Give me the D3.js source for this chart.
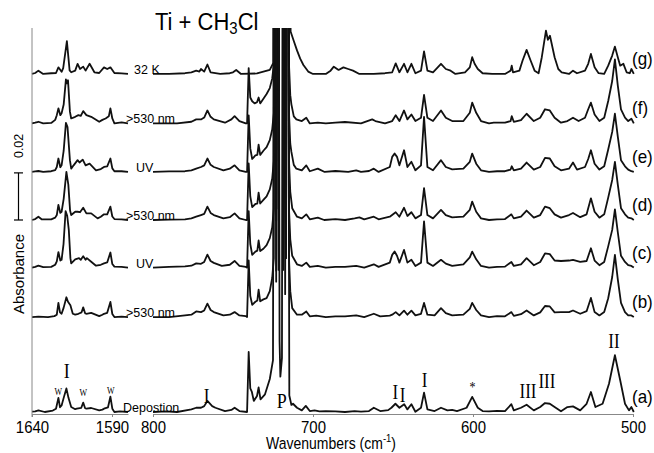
<!DOCTYPE html>
<html>
<head>
<meta charset="utf-8">
<script src="https://cdn.jsdelivr.net/npm/d3@7"></script>
<style>
  body { margin: 0; background: #fff; }
  svg { display: block; font-family: "Liberation Sans", Arial, sans-serif; }
</style>
</head>
<body>
<div id="chart"></div>
<script>
const width = 654, height = 453;

// spectra: [wavenumber (cm-1), absorbance x 1000]
const traceIds = ["(a)", "(b)", "(c)", "(d)", "(e)", "(f)", "(g)"];
const traceNotes = ["Depostion", ">530 nm", "UV", ">530 nm", "UV", ">530 nm", "32 K"];
const traceOffsets = [0, 40.3, 61.3, 81.5, 101.9, 122.5, 143.5];
const scaleBarValue = 20; // 0.02 absorbance

const xLeftTicks = [1640, 1590];
const xRightTicks = [800, 700, 600, 500];

// 1640-1580 region
const leftA = [[1640,0.2],[1638,0.3],[1636,0.7],[1632,0],[1627,0.6],[1625,1.4],[1623.5,6.0],[1622.5,2.0],[1621.5,2.8],[1620.2,6],[1618.5,10],[1617.2,6],[1615.5,2.1],[1613,1.2],[1612,1.4],[1609.2,1.8],[1608,4.0],[1606.8,1.6],[1606,1.4],[1603,1.7],[1598,0.7],[1596,1.0],[1595,1.4],[1592.5,2],[1591,6.5],[1589.8,1.4],[1588.5,0],[1585,0.3],[1580,0]];
const leftB = [[1640,0],[1636,0.2],[1630,0],[1626,0.4],[1624.5,1.0],[1623.5,6.0],[1622.5,2.0],[1621.5,1.4],[1620.2,4],[1618.5,8.4],[1617.5,6.5],[1616,5.0],[1614.5,1.4],[1613,1.0],[1611,1.4],[1609,2.0],[1608,4.1],[1606.8,1.6],[1606,1.4],[1603,1.8],[1598,0.4],[1596,1.0],[1595,1.4],[1593,1.8],[1591,6.4],[1589.8,1.3],[1588.5,0],[1584,0.2],[1580,0]];
const leftC = [[1640,0],[1638,0.3],[1636,0.8],[1633,0.2],[1628,0.3],[1625.5,1.2],[1624.5,2.6],[1623.5,6.6],[1622.3,3],[1621.5,3.3],[1620.3,10],[1619,24],[1618,22],[1617,16],[1616,4],[1615.5,1.8],[1613,3.5],[1610.6,4.0],[1609.5,3.3],[1608,4.8],[1606.5,3.3],[1605.7,4.0],[1603,2.5],[1600,0.8],[1597,1.2],[1595,1.8],[1593,2.2],[1591,6.4],[1589.8,1.5],[1588.5,0.4],[1584,0.3],[1580,0]];
const leftD = [[1640,0],[1638,0.4],[1636,1.4],[1634,0.3],[1628,0.3],[1625.5,1.0],[1624.5,2.1],[1623.5,6.4],[1622.3,3],[1621.5,3.5],[1620.2,9],[1618.5,20.4],[1617.3,15],[1616.2,4],[1615.5,2.1],[1613,3.5],[1611.5,3.5],[1610,3.3],[1608,5.2],[1606,2.8],[1603,2.8],[1599,0.7],[1597,1.4],[1595,2.4],[1593,2.4],[1591,5.7],[1589.8,1.5],[1588.5,0.4],[1584,0.3],[1580,0]];
const leftE = [[1640,0],[1638,0.2],[1636,0.4],[1633,0],[1628,0.3],[1625.5,0.8],[1624.5,2.1],[1623.5,5.7],[1622.3,2.0],[1621.5,2.8],[1620.2,9],[1618.8,20.8],[1617.8,19],[1616.3,5],[1615.5,1.4],[1614,2.8],[1611.5,5.0],[1610.3,4.0],[1608.3,5.2],[1606.5,2.8],[1604,3.5],[1600,0.7],[1597,1.2],[1595,2.1],[1593,2.4],[1591,5.7],[1589.8,1.5],[1588.5,0.3],[1584,0.3],[1580,0]];
const leftF = [[1640,0],[1638,0.3],[1636,0.7],[1633,0],[1628,0.2],[1625.5,1.5],[1624.5,3.5],[1623.5,6.4],[1622.3,3.5],[1621.5,4.3],[1620.2,8],[1618.8,18.7],[1618.2,17],[1617.5,18.3],[1616.3,5],[1615.5,2.1],[1613,2.8],[1611,3.5],[1609.5,3.2],[1608,5.2],[1606,3.5],[1603,2.8],[1598,0.7],[1596,1.5],[1594,2.1],[1592,3],[1591,6.4],[1589.8,2.1],[1588.5,0],[1584,0.4],[1580,0]];
const leftG = [[1640,0],[1638,0.4],[1636,1.4],[1633,0],[1628,0.3],[1625,0.4],[1623.5,2.8],[1621.5,0.9],[1620.5,2.5],[1618.2,13.9],[1616.5,1.5],[1615.5,0.7],[1613,1.4],[1611.5,4.3],[1610,2.1],[1608,3.1],[1606.5,1.4],[1604,4.3],[1601,0.7],[1598,0.4],[1595,2.8],[1593,2.1],[1591,2.8],[1588.5,0.4],[1584,0.2],[1580,0]];

// 800-500 region
const rightA = [[800,0],[792,0.3],[785,0],[776,1.1],[773,1.8],[770,1.8],[768,2.5],[766,4.7],[763,2.5],[761,1.8],[755,0.4],[751,0.9],[749,1.8],[746,0.4],[741.2,0],[740.2,25.5],[739.2,10],[738.2,8.5],[737,4.7],[735,6.8],[734,10.4],[732.8,5.4],[730,7.5],[727,14],[725,22],[724,400],[723,60],[722,400],[720.9,30],[720.4,15],[719.4,23],[718.6,400],[717.4,50],[716.2,400],[714.8,7],[713.5,3],[712.5,3.5],[710,1.8],[707,0.7],[704.5,2.6],[702,0.4],[699,0.7],[696,0.3],[692,0.4],[686,0.3],[680,0],[674,0.4],[670,0.2],[665,0.4],[662,1.8],[658,0.4],[653,0.8],[651,1.8],[648.5,3.5],[646,1.8],[643,3.3],[641,1.1],[638.5,3.3],[636,0.1],[632.5,1.8],[630.6,8.2],[628.5,1.1],[624,0.4],[620,1.8],[616,0.7],[613,0.9],[610,0.4],[604,1.8],[600.5,6.4],[597,1.8],[594,0.4],[590,0.3],[585,0.5],[580,0.4],[576,3.3],[574.5,0.7],[570,1.8],[566.5,3.1],[562,0.7],[558,2.1],[555,3.8],[552,3.5],[549,2.1],[545,0.3],[541,2.1],[537.5,2.4],[533,0.7],[529,3.5],[526.3,8.5],[523.5,2.1],[519,3.5],[515,12],[511.3,24.1],[508,13.5],[505,3.5],[502.5,0.7],[501,2.1],[499.5,0]];
const rightB = [[800,0],[790,0],[780,0.7],[776,1.0],[773,2.4],[770,2.1],[768,2.8],[766,5.7],[764,3.0],[762,2.1],[756,0.7],[752,1.0],[749,2.1],[746,0.7],[742,0.4],[741.2,0],[740.2,24],[739.2,9],[738,5.2],[736,6.5],[734.8,7],[734,11.6],[733,6.7],[731,7.5],[729,8],[727,11],[725.5,16.6],[724.5,25],[723.8,400],[723,15],[722.3,400],[721.5,20],[720.8,400],[720.2,200],[719.3,400],[718.5,20],[717.7,400],[716.8,25],[716,400],[715,25],[714.2,11],[713,3.8],[710,1.0],[707,1.0],[704.2,2.4],[702,0.3],[698,0.6],[692,0],[686,0.3],[680,0.3],[673,0.7],[668,0],[662,1.4],[658,0.3],[652,0.6],[650.5,1.0],[648.3,2.1],[646,0.7],[643.1,2.7],[641,1.0],[638.5,2.7],[636,0.7],[632.5,1.4],[630.6,6.0],[628.5,1.0],[624,0.7],[620,3.8],[617,1.7],[613,0.7],[606,1.0],[602,3.5],[600.5,6.0],[598,3.0],[595,0.7],[590,0],[585,0.4],[580,0.3],[576,2.1],[574.5,0.5],[570,1.2],[566.5,2.8],[562,0.7],[558,2.0],[555,4.7],[552,4.5],[549,2.0],[545,2.1],[540,2.1],[537.5,2.8],[533,1.4],[529,2.5],[526.3,8.1],[524,2.1],[521,0.7],[518,2.1],[515.5,8],[513,17],[511.3,26.4],[509.5,16],[507.5,6],[505,2.1],[503,0.7],[501,0.7],[499.5,0]];
const rightC = [[800,0],[790,0.3],[780,0.5],[776,0.8],[773,1.8],[770,1.6],[768,2.4],[766,5.5],[764,2.8],[762,2.0],[757,0.7],[752,1.2],[749,2.8],[746,0.7],[742,0.3],[741.2,0],[740.2,24],[739.2,10],[738,5.4],[736,6.8],[734.8,7.2],[734,11.5],[733,7],[731,8],[729,9.5],[727,12.5],[725.5,17],[724.5,25],[723.8,400],[723,20],[722.3,400],[721.5,25],[720.8,400],[720.2,200],[719.3,400],[718.5,25],[717.7,400],[716.8,30],[716,400],[715,25],[714.2,12],[713,5],[710,1.4],[707,0.7],[704.2,2.1],[702,0.3],[697,0.7],[692,0],[686,0.3],[680,0.3],[673,0.7],[668,0],[662,1.4],[659,0.3],[652,2.1],[650.5,5.4],[649,6.8],[647.5,5.0],[646,2.1],[643.1,7.5],[641,2.1],[638.5,3.3],[636,0.7],[632.5,2.1],[630.6,19.6],[628.5,2.1],[625,0.7],[620,3.3],[617,1.7],[613,0.7],[606,1.4],[602,4.3],[600.5,6.8],[598,3.5],[595,0.7],[590,0],[585,0.3],[580,0.4],[576,2.4],[574.5,0.7],[570,1.4],[566.5,4.0],[562,1.0],[558,2.4],[555,6.0],[552,5.7],[549,3.0],[545,2.8],[540,3.0],[537.5,3.3],[533,2.4],[529,2.8],[526.3,8.2],[524,3.0],[521,1.0],[518,2.4],[515.5,9],[513,16],[511.3,24.7],[509.5,15],[507.5,5],[505,2.4],[503,1.0],[501,0.7],[499.5,0]];
const rightD = [[800,0],[790,0.2],[780,0.3],[776,0.7],[773,1.4],[770,2.1],[768,2.6],[766,5.7],[764,3.0],[762,2.1],[756,0.7],[752,1.2],[749,2.8],[746,0.7],[742,0],[741.2,0],[740.2,24],[739.2,10],[738,5.5],[736,6.8],[734.8,7],[734,11.6],[733,7],[731,8.5],[729,10],[727,13],[725.5,17.5],[724.5,25],[723.8,400],[723,25],[722.3,400],[721.5,30],[720.8,400],[720.2,200],[719.3,400],[718.5,30],[717.7,400],[716.8,35],[716,400],[715,25],[714.2,12],[713,5],[710,1.4],[707,0.7],[704.2,2.4],[702,0.3],[697,1.0],[693,0],[686,0.4],[680,0],[674,0.7],[671,1.1],[668,0.3],[662,1.4],[659,0.3],[652,1.4],[648.3,3.3],[646,1.4],[643.1,5.2],[641,1.7],[638.5,3.3],[636,0.7],[632.5,2.1],[630.6,13.5],[628.5,2.1],[625,0.7],[620,4.3],[617,2.1],[613,1.1],[606,1.4],[602,4.3],[600.5,7.8],[598,3.5],[595,0.7],[590,0],[585,0.3],[580,0.4],[576,2.4],[574.5,0.7],[570,1.4],[566.5,4.0],[562,1.0],[558,2.1],[555,5.7],[552,5.0],[549,2.4],[545,1.0],[540,2.1],[537.5,3.0],[533,1.2],[529,2.4],[526.3,9.2],[524,3.5],[521,1.0],[518,2.4],[515.5,9.5],[513,17],[511.3,24.7],[509.5,15],[507.5,5],[505,2.4],[503,1.0],[501,0.7],[499.5,0]];
const rightE = [[800,0],[790,0.2],[780,0.3],[776,0.7],[773,1.4],[770,2.1],[768,2.8],[766,5.7],[764,3.0],[762,2.1],[756,0.7],[752,1.4],[749,2.8],[746,0.7],[742,0],[741.2,0],[740.2,24],[739.2,10],[738,5.5],[736,7],[734.8,7.2],[734,11.6],[733,7.2],[731,9],[729,10.5],[727,13.5],[725.5,18],[724.5,25],[723.8,400],[723,30],[722.3,400],[721.5,35],[720.8,400],[720.2,200],[719.3,400],[718.5,35],[717.7,400],[716.8,40],[716,400],[715,25],[714.2,12],[713.5,8.5],[712,3],[710.4,1.4],[707,0.7],[704.2,2.8],[702,0.3],[697,1.4],[692.7,0],[686,0.4],[678,0],[673,0.7],[670,0],[665,0.4],[662,1.4],[659,0],[652,2.1],[650.5,6.4],[649,7.8],[647.5,6.4],[646,2.8],[643.1,9.2],[641,2.1],[638.5,4.3],[636,0.7],[632.5,2.8],[630.6,23.4],[628.5,2.1],[625,0.7],[620,5.0],[617,2.1],[613,1.1],[606,1.4],[602,4.3],[600.5,7.8],[598,3.5],[595,0.7],[590,0],[585,0.3],[580,0.3],[576.5,1.0],[575.8,2.4],[574.5,0.7],[570,1.4],[566.5,4.0],[562,1.0],[558,2.1],[555,6.0],[552,5.7],[549,2.4],[545,0.7],[540,1.4],[537.5,4.0],[535,1.0],[530,2.1],[528,5.5],[526.3,9.2],[524,3.5],[521,1.0],[518,2.4],[515.5,9.5],[513,17],[511.3,24.7],[509.5,15],[507.5,5],[505,2.4],[503,1.0],[501,0.3],[499.5,0]];
const rightF = [[800,0],[785,0],[776,0.7],[773,1.7],[770,1.7],[768,2.5],[766,5.5],[764,2.8],[762,1.7],[755,0.3],[751,1.7],[749,3.1],[746,1.0],[742,0],[741.2,0],[740.2,23.5],[739.2,11],[738,9.4],[736.5,8.5],[735,9],[734,11],[733,8.5],[731,10.5],[729,12.5],[727,15],[725.5,19],[724.5,25],[723.8,400],[723,35],[722.3,400],[721.5,40],[720.8,400],[720.2,200],[719.3,400],[718.5,40],[717.7,400],[716.8,45],[716,400],[715,25],[714.2,12],[713.5,8.1],[712,3],[710.4,1.7],[707,1.0],[704.2,2.4],[702,0],[697,0.3],[692,0],[686,0.3],[680,0.6],[670,0],[663,1.7],[661,1.0],[655,0],[650.5,1.0],[648.3,3.5],[646,1.0],[643.1,5.5],[641,1.7],[638.5,3.8],[636,1.0],[632.5,2.4],[630.6,12.1],[628.5,2.4],[625,1.0],[620,5.5],[617,2.4],[613,1.0],[606,1.0],[602,4.5],[600.5,8.8],[598,4.5],[595,1.0],[590,0],[587,0.3],[580,0.3],[576.5,1.0],[575.8,3.1],[574.5,0.7],[570,1.4],[566.5,4.1],[562,1.0],[558,2.4],[555,6.0],[552,5.5],[549,2.4],[545,0.3],[541,1.0],[537.5,2.4],[534,1.0],[530,2.4],[528,6.0],[526.3,8.8],[524,3.8],[521,1.0],[518,2.4],[515.5,9.5],[513,18],[511.3,27.2],[509.5,16],[507.5,6],[505,2.5],[503,1.0],[501,2.0],[499.5,0]];
const rightG = [[800,0],[790,0],[780,0.3],[776,0.7],[773,1.4],[771,1.0],[770,2.1],[768,1.0],[766,4.0],[764,0.7],[758,0],[752,0.3],[750,0.7],[748,1.7],[745,0],[735,0.2],[727,1.7],[724.8,4.7],[724,400],[714.5,400],[714,18],[712,14],[710,10],[708,6.5],[706,3.8],[703,1.0],[700,0],[692,0],[689,1.4],[687,3.1],[684,1.7],[681,2.8],[678,2.1],[675,1.4],[671,0],[662,0],[655,0.3],[650.5,0.7],[648.3,4.5],[646,0.7],[643.1,4.3],[641,0.7],[638.5,4.3],[636,0.3],[632.5,1.4],[630.6,9.6],[628.5,1.4],[625,0.7],[620,4.3],[617,2.1],[614,1.4],[611,0],[605,0.7],[602,2.8],[600.5,7.1],[599,4.3],[597,2.1],[594,0.3],[588,0],[580,0],[576.5,1.4],[575.8,3.5],[575,0.7],[571,1.4],[569,5.7],[566.5,10.2],[564,5.7],[561.5,1.4],[559,0.3],[557,7.1],[554.4,18.4],[553.2,14.5],[551.9,16.2],[549,7.1],[546.7,2.1],[544.6,0.7],[540,0],[537.5,1.4],[535,0.3],[530,1.4],[528,4.3],[526.3,8.5],[524,2.8],[521.5,0.3],[518,0],[515.5,3.5],[513,7.8],[511.3,11.6],[509.5,7.1],[508,3.5],[506,4.3],[504,0.7],[502,0.3],[501,2.1],[499.5,0]];

const leftSpectra = [leftA, leftB, leftC, leftD, leftE, leftF, leftG];
const rightSpectra = [rightA, rightB, rightC, rightD, rightE, rightF, rightG];

// band assignments on the deposition trace
const bandLabels = [
  { text: "W", panel: "left", w: 1623.5, level: 7.2, size: 8 },
  { text: "I", panel: "left", w: 1618.3, level: 14.4, size: 18 },
  { text: "W", panel: "left", w: 1608, level: 6.8, size: 8 },
  { text: "W", panel: "left", w: 1590.8, level: 7.6, size: 8 },
  { text: "I", panel: "right", w: 766.5, level: 3.8, size: 17 },
  { text: "P", panel: "right", w: 719.5, level: 1.7, size: 18 },
  { text: "I", panel: "right", w: 648.5, level: 5.5, size: 17 },
  { text: "I", panel: "right", w: 644, level: 4.4, size: 17 },
  { text: "I", panel: "right", w: 630.3, level: 10.8, size: 17 },
  { text: "*", panel: "right", w: 600.3, level: 8.5, size: 12 },
  { text: "III", panel: "right", w: 565.6, level: 5.9, size: 17 },
  { text: "III", panel: "right", w: 553.8, level: 10.2, size: 17 },
  { text: "II", panel: "right", w: 511.9, level: 27.2, size: 17 }
];

const svg = d3.select("#chart").append("svg")
    .attr("width", width)
    .attr("height", height);

const xLeft = d3.scaleLinear().domain([1640, 1580]).range([32, 128]);
const xRight = d3.scaleLinear().domain([800, 500]).range([153, 633]);
const y = d3.scaleLinear().domain([0, 163]).range([412, 28]);

svg.append("clipPath").attr("id", "plotClip")
  .append("rect")
    .attr("x", 30).attr("y", y(163))
    .attr("width", 612).attr("height", 400);

const plot = svg.append("g").attr("clip-path", "url(#plotClip)");

function drawTrace(data, xs, off) {
  const line = d3.line()
      .x(d => xs(d[0]))
      .y(d => y(d[1] + off));
  plot.append("path")
      .datum(data)
      .attr("d", line)
      .attr("fill", "none")
      .attr("stroke", "#111")
      .attr("stroke-width", 1.8)
      .attr("stroke-linejoin", "round");
}

traceOffsets.forEach((off, i) => {
  drawTrace(leftSpectra[i], xLeft, off);
  drawTrace(rightSpectra[i], xRight, off);
});

// axes
const axisY = 414;
function styleAxis(g) {
  g.select(".domain").attr("stroke", "#888");
  g.selectAll(".tick line").attr("stroke", "#888");
  g.selectAll(".tick text")
      .attr("fill", "#000")
      .attr("font-size", 15)
      .attr("font-family", "Liberation Sans, Arial, sans-serif")
      .attr("transform", "scale(1,1.12)");
}
svg.append("g")
    .attr("transform", `translate(0,${axisY})`)
    .call(d3.axisBottom(xLeft).tickValues(xLeftTicks).tickSize(3).tickSizeOuter(0).tickFormat(d3.format("d")))
    .call(styleAxis);
svg.append("g")
    .attr("transform", `translate(0,${axisY})`)
    .call(d3.axisBottom(xRight).tickValues(xRightTicks).tickSize(3).tickSizeOuter(0).tickFormat(d3.format("d")))
    .call(styleAxis);

svg.append("line")
    .attr("x1", 32).attr("x2", 32)
    .attr("y1", y(163)).attr("y2", 417)
    .attr("stroke", "#888");

// title
const title = svg.append("text")
    .attr("transform", "translate(155,30) scale(1,1.1)")
    .attr("font-size", 22);
title.append("tspan").text("Ti + CH");
title.append("tspan").attr("font-size", 15).attr("dy", 4).text("3");
title.append("tspan").attr("dy", -4).text("Cl");

// x label
const xl = svg.append("text")
    .attr("transform", "translate(331,449) scale(1,1.12)")
    .attr("text-anchor", "middle")
    .attr("font-size", 14);
xl.append("tspan").text("Wavenumbers (cm");
xl.append("tspan").attr("font-size", 9.5).attr("dy", -6).text("-1");
xl.append("tspan").attr("dy", 6).text(")");

// y label and scale bar
svg.append("text")
    .attr("transform", "translate(24,274) rotate(-90)")
    .attr("text-anchor", "middle")
    .attr("font-size", 15)
    .text("Absorbance");

const barX = 18.5;
const barTop = y(traceOffsets[3] + scaleBarValue), barBot = y(traceOffsets[3]);
const bar = svg.append("g").attr("stroke", "#000").attr("stroke-width", 1.2);
bar.append("line").attr("x1", barX).attr("x2", barX).attr("y1", barTop).attr("y2", barBot);
bar.append("line").attr("x1", barX - 4.5).attr("x2", barX + 4.5).attr("y1", barTop).attr("y2", barTop);
bar.append("line").attr("x1", barX - 4.5).attr("x2", barX + 4.5).attr("y1", barBot).attr("y2", barBot);
svg.append("text")
    .attr("transform", `translate(23,${barTop - 27}) rotate(-90)`)
    .attr("text-anchor", "middle")
    .attr("font-size", 12.5)
    .text((scaleBarValue / 1000).toFixed(2));

// trace notes between the panels
const noteStart = { "Depostion": 123, ">530 nm": 126, "UV": 136, "32 K": 134 };
traceNotes.forEach((t, i) => {
  svg.append("text")
      .attr("x", noteStart[t])
      .attr("y", y(traceOffsets[i]))
      .attr("font-size", 12.5)
      .attr("fill", "#000")
      .text(t);
});

// trace letters on the right
traceIds.forEach((t, i) => {
  svg.append("text")
      .attr("transform", `translate(632,${y(traceOffsets[i]) - 9}) scale(1,1.1)`)
      .attr("font-size", 17)
      .text(t);
});

// band labels
bandLabels.forEach(b => {
  const xs = b.panel === "left" ? xLeft : xRight;
  svg.append("text")
      .attr("transform", `translate(${xs(b.w)},${y(b.level)}) scale(1,1.2)`)
      .attr("text-anchor", "middle")
      .attr("font-family", "Liberation Serif, Times New Roman, serif")
      .attr("font-size", b.size)
      .attr("fill", "#000")
      .text(b.text);
});
</script>
</body>
</html>
